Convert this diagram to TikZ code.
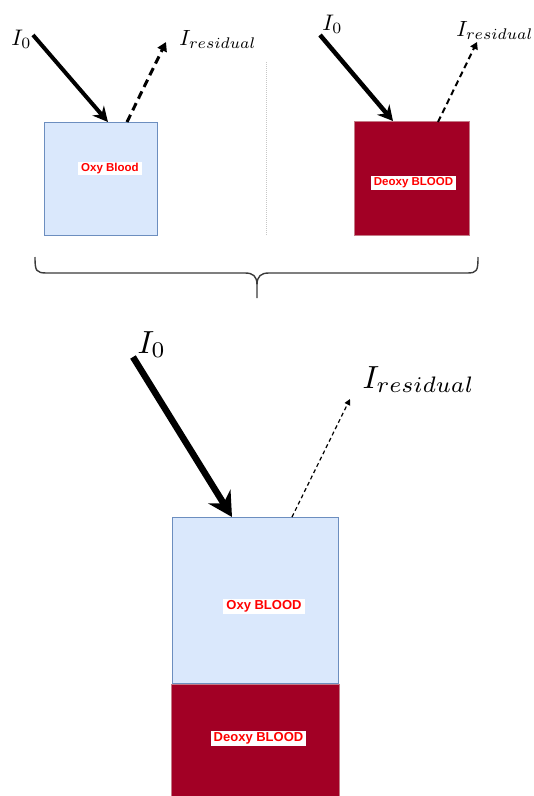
\documentclass[tikz,border=0pt]{standalone}
\usepackage{fontspec}
\newfontfamily\tagfont{Liberation Sans}
\usetikzlibrary{arrows.meta}
\definecolor{oxyfill}{HTML}{DAE8FC}
\definecolor{oxyline}{HTML}{6C8EBF}
\definecolor{deoxyfill}{HTML}{A20025}
\definecolor{deoxyline}{HTML}{C47A86}
\definecolor{bracecol}{HTML}{3A3A3A}
\begin{document}
\begin{tikzpicture}[x=1pt,y=-1pt,
  oxybox/.style={draw=oxyline,fill=oxyfill,line width=0.8pt,inner sep=0pt},
  deoxybox/.style={draw=deoxyline,fill=deoxyfill,line width=0.8pt,inner sep=0pt},
  tag/.style={fill=white,text=red,inner xsep=3pt,inner ysep=1.5pt,
    font=\tagfont\bfseries\fontsize{#1}{#1}\selectfont},
  tag/.default=11.5,
  symb/.style={inner sep=0pt,anchor=base west,scale=#1},
  incident/.style={line width=#1,line cap=butt},
  reflected/.style={line width=#1},
]
\clip (0,0) rectangle (534,796);

% ---- top left: oxygenated sample ----
\node[oxybox,minimum width=113pt,minimum height=113pt] (oxyA) at (100.5,178.5) {};
\node[tag] (oxyAtag) at (110,168.5) {Oxy Blood};
\node[symb=2.25] (inA) at (11,45) {$I_0$};
\node[symb=2.2] (outA) at (179,45) {$I_{residual}$};
\coordinate (inAstart) at (33,35);
\coordinate (inAhit) at (108,122);
\coordinate (outAstart) at (127,122);
\coordinate (outAend) at (166,42);
\draw[incident=4pt,-{Stealth[length=15pt,width=15pt,inset=5pt]}] (inAstart) -- (inAhit);
\draw[reflected=3pt,dash pattern=on 8pt off 5pt,-{Triangle[length=9pt,width=10pt]}] (outAstart) -- (outAend);

% ---- separator ----
\coordinate (sepTop) at (266,62);
\coordinate (sepBot) at (266,235);
\draw[gray!45,line width=1pt,dash pattern=on 1pt off 1pt] (sepTop) -- (sepBot);

% ---- top right: deoxygenated sample ----
\node[deoxybox,minimum width=115pt,minimum height=114pt] (deoxyA) at (411.5,178) {};
\node[tag] (deoxyAtag) at (413.5,183) {Deoxy BLOOD};
\node[symb=2.25] (inB) at (322,30) {$I_0$};
\node[symb=2.2] (outB) at (456,36) {$I_{residual}$};
\coordinate (inBstart) at (320,35);
\coordinate (inBhit) at (393,121);
\coordinate (outBstart) at (438,122);
\coordinate (outBend) at (477,42);
\draw[incident=4.5pt,-{Stealth[length=15pt,width=16pt,inset=5pt]}] (inBstart) -- (inBhit);
\draw[reflected=2pt,dash pattern=on 6pt off 4pt,-{Triangle[length=7pt,width=8pt]}] (outBstart) -- (outBend);

% ---- brace joining both samples ----
\coordinate (braceL) at (35,257);
\coordinate (braceR) at (478,257);
\coordinate (braceTip) at (257,298);
\draw[bracecol,line width=1.4pt,line join=round]
  (braceL) .. controls (35,271) and (36,273) .. (47,273) -- (245,273)
  .. controls (253,273) and (257,276) .. (257,285) -- (braceTip)
  (braceR) .. controls (478,271) and (477,273) .. (467,273) -- (269,273)
  .. controls (261,273) and (257,276) .. (257,285);

% ---- bottom: layered sample ----
\node[oxybox,minimum width=166pt,minimum height=166pt] (oxyC) at (255,600) {};
\node[deoxybox,minimum width=168pt,minimum height=168pt] (deoxyC) at (255,768) {};
\node[tag=13] (oxyCtag) at (264,606.5) {Oxy BLOOD};
\node[tag=13] (deoxyCtag) at (258.5,738.5) {Deoxy BLOOD};
\node[symb=3.2] (inC) at (137,353) {$I_0$};
\node[symb=3.2] (outC) at (362,388) {$I_{residual}$};
\coordinate (inCstart) at (133,357);
\coordinate (inChit) at (232,517);
\coordinate (outCstart) at (292,517);
\coordinate (outCend) at (350,399);
\draw[incident=6.5pt,-{Stealth[length=24pt,width=26pt,inset=8pt]}] (inCstart) -- (inChit);
\draw[reflected=1.2pt,dash pattern=on 4pt off 3pt,-{Triangle[length=6pt,width=6pt]}] (outCstart) -- (outCend);
\end{tikzpicture}
\end{document}
